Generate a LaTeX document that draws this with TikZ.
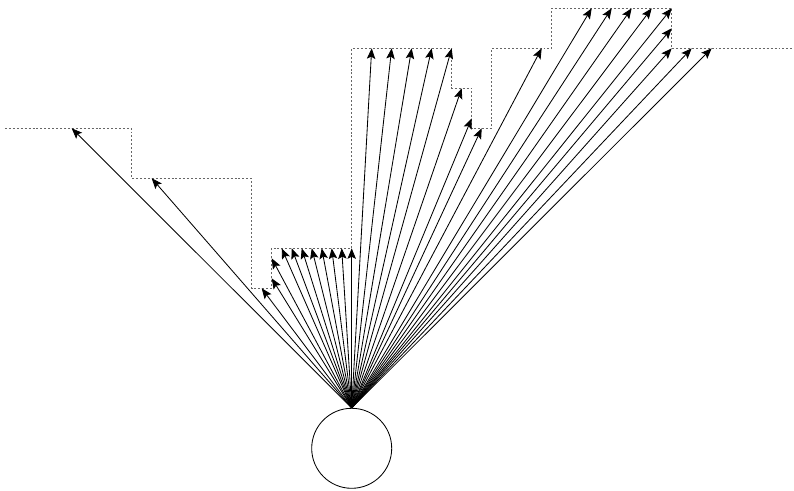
\documentclass[tikz,border=0pt]{standalone}
\usetikzlibrary{arrows.meta}
\begin{document}
\begin{tikzpicture}[x=0.025cm,y=0.025cm,
  ray/.style={-{Stealth[length=7.5pt,width=6pt,inset=1.5pt]}, line width=0.6pt},
  wall/.style={black!60, line width=0.5pt, dash pattern=on 1.4pt off 1.4pt},
  ball/.style={circle, draw, line width=0.6pt, minimum size=2cm, inner sep=0pt}]
\useasboundingbox (-351.7,-42.7) rectangle (442.3,448.3);
\node[ball] (c) at (0,0) {};
\draw[wall] (-346.7,320) -- (-220,320) -- (-220,270) -- (-100,270) -- (-100,160)
  -- (-80,160) -- (-80,200) -- (0,200) -- (0,400) -- (100,400) -- (100,360)
  -- (120,360) -- (120,320) -- (140,320) -- (140,400) -- (200,400) -- (200,440)
  -- (320,440) -- (320,400) -- (442.3,400);
\foreach \x/\y [count=\i] in {-280/320,-200/270,-90/160,-80/170,-80/190,
  -70/200,-60/200,-50/200,-40/200,-30/200,-20/200,-10/200,0/200,
  20/400,40/400,60/400,80/400,100/400,110/360,120/330,130/320,190/400,
  240/440,260/440,280/440,300/440,320/440,320/420,320/400,340/400,360/400}
{
  \coordinate (t\i) at (\x,\y);
  \draw[ray] (c.north) -- (t\i);
}
\end{tikzpicture}
\end{document}
